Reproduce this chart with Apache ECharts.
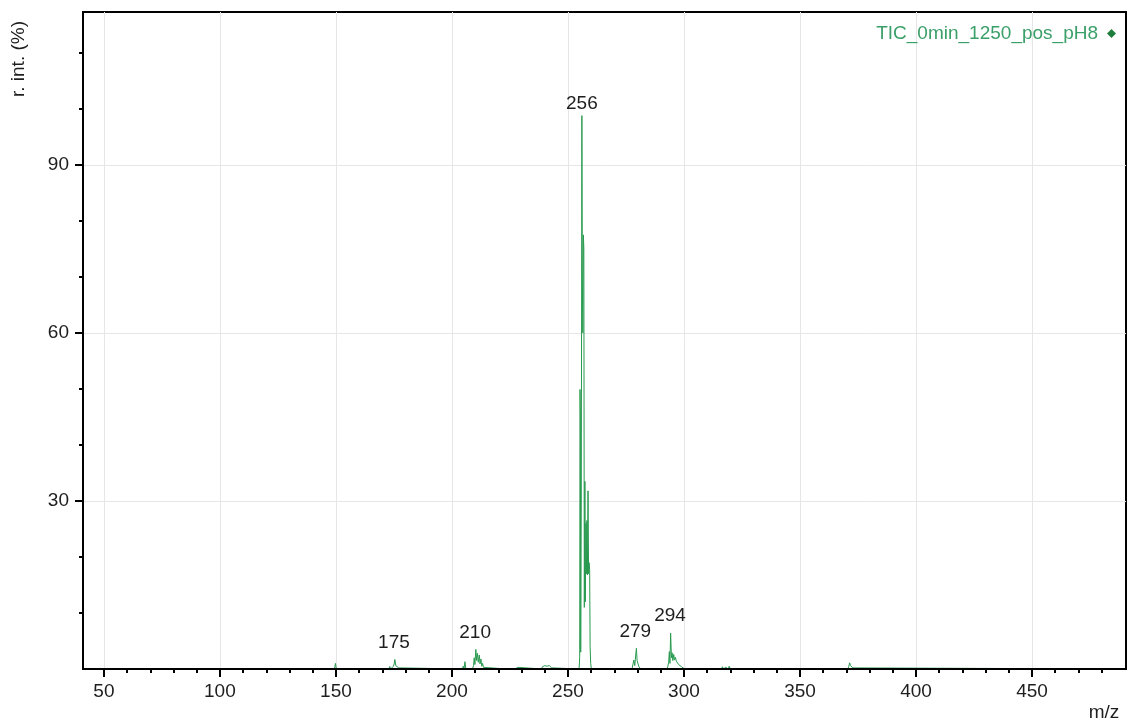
<!DOCTYPE html>
<html>
<head>
<meta charset="utf-8">
<script src="https://cdn.jsdelivr.net/npm/echarts@6/dist/echarts.min.js"></script>
<style>
html,body{margin:0;padding:0;background:#fff;}
#chart{width:1128px;height:724px;}
</style>
</head>
<body>
<div id="chart"></div>
<script>
// ---------- data ----------
const seriesName = 'TIC_0min_1250_pos_pH8';

const mzValues = [
  41, 57.0, 57.3, 57.6, 84.2, 84.5, 84.8, 113.9, 114.2, 114.5,
  149.4, 149.8, 150.2,
  163.1, 163.5, 163.9, 166.2, 166.6, 167.0,
  171.6, 172.0, 172.4, 172.9, 173.2, 173.6, 174.4, 174.8, 175.1, 175.4, 175.8, 176.2, 176.6, 177.1, 177.6,
  204.5, 204.9, 205.2, 205.6, 206.0,
  208.8, 209.3, 209.6, 209.9, 210.3, 210.65, 211.0, 211.35, 211.8, 212.1, 212.5, 212.85, 213.2, 213.6, 213.9, 214.3,
  223.3, 223.6, 223.9, 227.2, 227.6, 228.0, 228.4, 228.8,
  238.6, 239.0, 239.4, 240.0, 240.5, 241.0, 241.5, 242.0, 242.5, 243.0, 243.4,
  254.8, 255.05, 255.2, 255.35, 255.5, 255.75, 256.0, 256.2, 256.4, 256.65, 256.85, 257.05,
  257.3, 257.5, 257.75, 257.95, 258.15, 258.4, 258.65, 258.9, 259.1, 259.35, 259.55, 259.8, 260.1,
  277.6, 278.0, 278.4, 278.8, 279.2, 279.5, 279.8, 280.1, 280.5, 280.9, 281.3,
  292.6, 293.0, 293.4, 293.7, 293.95, 294.25, 294.6, 294.9, 295.2, 295.6, 295.9, 296.3,
  296.7, 297.2, 297.7, 298.3, 298.9, 299.6, 300.3,
  314.1, 314.5, 314.9, 316.2, 316.6, 317.0, 317.6, 318.0, 318.4, 319.1, 319.5, 319.9,
  320.8, 321.2, 321.6, 330.6, 331.0, 331.4,
  370.6, 371.0, 371.4, 371.8, 372.2, 372.7, 373.1,
  490.5
];
const intensityValues = [
  0, 0, 0.35, 0, 0, 0.35, 0, 0, 0.35, 0,
  0, 1.0, 0,
  0, 0.3, 0, 0, 0.3, 0,
  0, 0.3, 0, 0, 0.45, 0, 0, 0.5, 0.9, 1.7, 0.6, 0.9, 0.3, 0.2, 0,
  0, 0.5, 0, 1.3, 0,
  0, 0.6, 2.0, 0.8, 3.5, 1.5, 2.8, 1.2, 2.5, 0.9, 1.8, 0.5, 1.0, 0.3, 0.5, 0,
  0, 0.35, 0, 0, 0.3, 0.1, 0.3, 0,
  0, 0.4, 0.1, 0.6, 0.3, 0.5, 0.2, 0.6, 0.4, 0.2, 0,
  0, 2, 49.9, 45, 3, 30, 98.8, 70, 60, 77.5, 75, 11,
  33.5, 12, 26, 17, 26.5, 16.8, 31.8, 17, 19, 17.7, 4, 1, 0,
  0, 0.3, 1.6, 0.6, 2.5, 3.7, 1.5, 1.3, 0.5, 0.2, 0,
  0, 0.4, 1.2, 3.1, 1.0, 6.4, 2.0, 2.9, 1.5, 2.6, 1.6, 2.1,
  1.4, 1.2, 0.8, 0.6, 0.4, 0.2, 0,
  0, 0.3, 0, 0, 0.4, 0, 0, 0.3, 0, 0, 0.5, 0,
  0, 0.3, 0, 0, 0.3, 0,
  0, 0.4, 1.1, 0.6, 0.5, 0.2, 0,
  0
];

const peakLabelMz = [175, 210, 256, 279, 294];
const peakLabelIntensity = [1.7, 3.5, 97.8, 3.7, 6.4];

const xMajorTicks = [50, 100, 150, 200, 250, 300, 350, 400, 450];
const xMinorTicks = [60, 70, 80, 90, 110, 120, 130, 140, 160, 170, 180, 190, 210, 220, 230, 240,
  260, 270, 280, 290, 310, 320, 330, 340, 360, 370, 380, 390, 410, 420, 430, 440, 460, 470, 480];
const yMajorTicks = [30, 60, 90];
const yMinorTicks = [10, 20, 40, 50, 70, 80, 100, 110];

const xMin = 41, xMax = 490.5;
const yMin = 0, yMax = 117.3;

const yAxisTitle = 'r. int. (%)';
const xAxisTitle = 'm/z';

// ---------- chart ----------
const FONT = '"Liberation Sans", Arial, sans-serif';
const GREEN = '#2a9a50';
const chart = echarts.init(document.getElementById('chart'), null, {renderer: 'canvas'});

const spectrum = mzValues.map((m, i) => [m, intensityValues[i]]);
const peakLabels = peakLabelMz.map((m, i) => [m, peakLabelIntensity[i]]);

function xAxisBase(extra) {
  return Object.assign({
    type: 'value', gridIndex: 0, position: 'bottom', min: xMin, max: xMax,
    axisLine: {show: false, onZero: false}, axisTick: {show: false},
    axisLabel: {show: false}, splitLine: {show: false}
  }, extra);
}
function yAxisBase(extra) {
  return Object.assign({
    type: 'value', gridIndex: 0, position: 'left', min: yMin, max: yMax,
    axisLine: {show: false, onZero: false}, axisTick: {show: false},
    axisLabel: {show: false}, splitLine: {show: false}
  }, extra);
}

const option = {
  animation: false,
  backgroundColor: '#fff',
  grid: {left: 83, right: 2, top: 12, bottom: 55, show: true, borderColor: '#000', borderWidth: 2,
         containLabel: false, outerBoundsMode: 'none'},
  legend: {
    data: [{name: seriesName, icon: 'diamond'}],
    right: 7, top: 19, align: 'right', orient: 'horizontal',
    itemWidth: 9, itemHeight: 9,
    itemStyle: {color: '#1f7d3d'},
    textStyle: {fontSize: 19, fontFamily: FONT, color: '#3a9f68', padding: [0, 4, 0, 0]}
  },
  xAxis: [
    xAxisBase({z: 0,
      axisTick: {show: false, customValues: xMajorTicks},
      axisLabel: {show: false, customValues: xMajorTicks},
      splitLine: {show: true, lineStyle: {color: '#e6e6e6', width: 1}}}),
    xAxisBase({z: 5, zlevel: 1,
      axisLine: {show: true, onZero: false, lineStyle: {color: '#000', width: 2}},
      axisTick: {show: true, customValues: xMajorTicks, length: 8, lineStyle: {color: '#000', width: 2}},
      axisLabel: {show: true, customValues: xMajorTicks, margin: 13, fontSize: 19, fontFamily: FONT, color: '#1e1e1e'}}),
    xAxisBase({z: 5, zlevel: 1,
      axisTick: {show: true, customValues: xMinorTicks, length: 4, lineStyle: {color: '#000', width: 2}},
      axisLabel: {show: false, customValues: xMinorTicks}})
  ],
  yAxis: [
    yAxisBase({z: 0,
      axisTick: {show: false, customValues: yMajorTicks},
      axisLabel: {show: false, customValues: yMajorTicks},
      splitLine: {show: true, lineStyle: {color: '#e6e6e6', width: 1}}}),
    yAxisBase({z: 5, zlevel: 1,
      axisLine: {show: true, onZero: false, lineStyle: {color: '#000', width: 2}},
      axisTick: {show: true, customValues: yMajorTicks, length: 8, lineStyle: {color: '#000', width: 2}},
      axisLabel: {show: true, customValues: yMajorTicks, margin: 14, fontSize: 19, fontFamily: FONT, color: '#1e1e1e'}}),
    yAxisBase({z: 5, zlevel: 1,
      axisTick: {show: true, customValues: yMinorTicks, length: 4, lineStyle: {color: '#000', width: 2}},
      axisLabel: {show: false, customValues: yMinorTicks}})
  ],
  series: [
    {
      name: seriesName, type: 'line', xAxisIndex: 0, yAxisIndex: 0, z: 2,
      data: spectrum, showSymbol: false, symbol: 'none', sampling: null,
      lineStyle: {color: GREEN, width: 1}, itemStyle: {color: GREEN},
      clip: true, silent: true
    },
    {
      name: 'labels', type: 'scatter', xAxisIndex: 0, yAxisIndex: 0, z: 6,
      data: peakLabels, symbolSize: 1, itemStyle: {color: 'rgba(0,0,0,0)'},
      label: {show: true, position: 'top', distance: 7, fontSize: 19, fontFamily: FONT, color: '#1e1e1e',
              opacity: 1, textBorderWidth: 0, formatter: p => String(p.value[0])},
      emphasis: {disabled: true},
      silent: true
    }
  ],
  graphic: [
    {type: 'text', x: 19, y: 59, rotation: Math.PI / 2, z: 10,
     style: {text: yAxisTitle, fontSize: 19, fontFamily: FONT, fill: '#1e1e1e',
             textAlign: 'center', textVerticalAlign: 'middle', align: 'center', verticalAlign: 'middle'}},
    {type: 'text', x: 1104, y: 713, z: 10,
     style: {text: xAxisTitle, fontSize: 19, fontFamily: FONT, fill: '#1e1e1e',
             textAlign: 'center', textVerticalAlign: 'middle', align: 'center', verticalAlign: 'middle'}}
  ]
};
chart.setOption(option);
</script>
</body>
</html>
